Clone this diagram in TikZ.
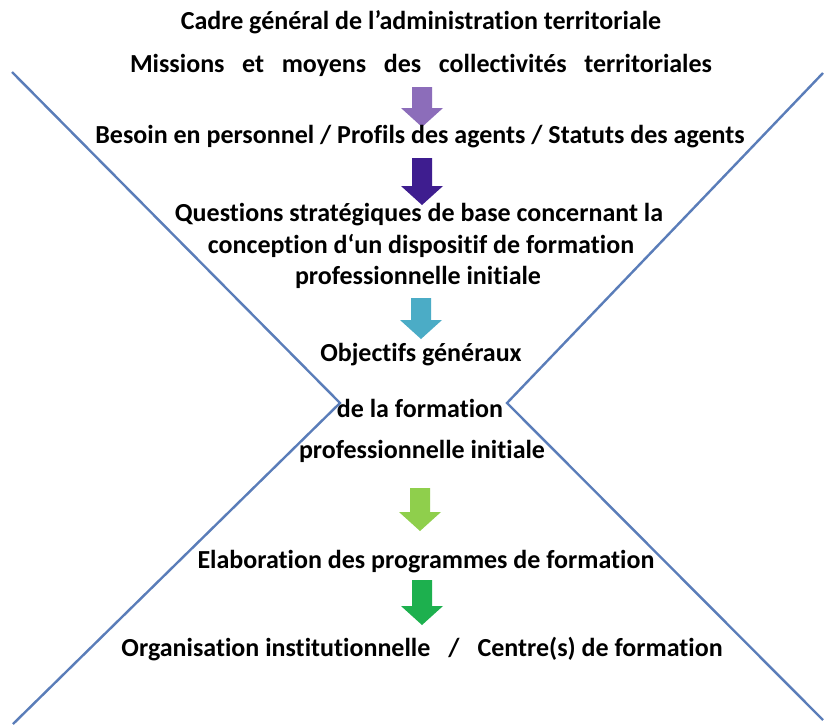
\documentclass[tikz,border=0pt]{standalone}
\usepackage{fontspec}
\setmainfont{Carlito}[RawFeature=-liga]
\begin{document}
\begin{tikzpicture}[x=1pt,y=-1pt,
  txt/.style={font=\bfseries\fontsize{26}{30}\selectfont, inner sep=0pt, anchor=center, text=black},
  xline/.style={draw=xblue, line width=2.4pt}]
\definecolor{xblue}{HTML}{5A7DB9}
\definecolor{aone}{HTML}{8C6DBA}
\definecolor{atwo}{HTML}{3E1D8F}
\definecolor{athree}{HTML}{4BACC6}
\definecolor{afour}{HTML}{8FCF4C}
\definecolor{afive}{HTML}{1DB04E}
\useasboundingbox[fill=white] (0,0) rectangle (824,724);
% X lines
\coordinate (lt) at (12,72);
\coordinate (la) at (340,403);
\coordinate (lb) at (13,724);
\coordinate (rt) at (823,73);
\coordinate (ra) at (507,403);
\coordinate (rb) at (823,720);
\draw[xline] (lt) -- (la) -- (lb);
\draw[xline] (rt) -- (ra) -- (rb);
% arrows
\newcommand\blkarrow[4]{% x, ytop, ybottom, colour
  \fill[#4] (#1-10,#2) -- (#1+10,#2) -- (#1+10,#3-19) -- (#1+21,#3-19) -- (#1,#3) -- (#1-21,#3-19) -- (#1-10,#3-19) -- cycle;}
\blkarrow{422}{87}{127}{aone}
\blkarrow{422}{158}{205}{atwo}
\blkarrow{421}{298}{339}{athree}
\blkarrow{420}{488}{531}{afour}
\blkarrow{422}{580}{625}{afive}
% texts
\node[txt] (t1) at (421,22) {Cadre général de l’administration territoriale};
\node[txt] (t2) at (421,65) {\makebox[582pt][s]{Missions\hfill et\hfill moyens\hfill des\hfill collectivités\hfill territoriales}};
\node[txt] (t3) at (420,137) {Besoin en personnel / Profils des agents / Statuts des agents};
\node[txt] (t4) at (419,215) {Questions stratégiques de base concernant la};
\node[txt] (t5) at (421,246) {conception d‘un dispositif de formation};
\node[txt] (t6) at (418,277) {professionnelle initiale};
\node[txt] (t7) at (421,355) {Objectifs généraux};
\node[txt] (t8) at (420,408) {de la formation};
\node[txt] (t9) at (422,451) {professionnelle initiale};
\node[txt] (t10) at (426,562) {Elaboration des programmes de formation};
\node[txt] (t11) at (422,649) {Organisation institutionnelle\hspace{18pt}/\hspace{18pt}Centre(s) de formation};
\end{tikzpicture}
\end{document}
